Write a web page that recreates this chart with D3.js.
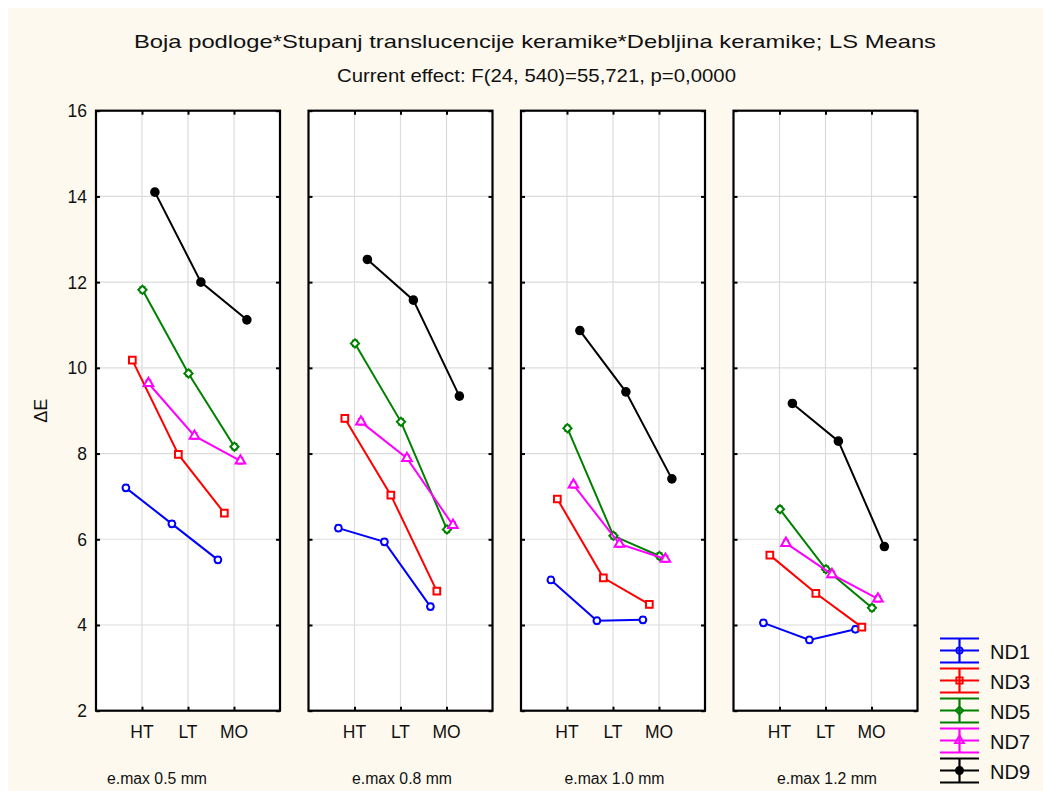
<!DOCTYPE html>
<html>
<head>
<meta charset="utf-8">
<title>LS Means</title>
<script src="https://cdn.jsdelivr.net/npm/d3@7"></script>
<style>
body { margin: 0; background: #fff; }
text { font-family: "Liberation Sans", Arial, sans-serif; fill: #111; }
.grid line { stroke: #dcdcdc; stroke-width: 1.2px; }
</style>
</head>
<body>
<script>

// data
const panels = ["e.max 0.5 mm", "e.max 0.8 mm", "e.max 1.0 mm", "e.max 1.2 mm"];
const categories = ["HT", "LT", "MO"];
const seriesNames = ["ND1", "ND3", "ND5", "ND7", "ND9"];
const seriesColors = ["#0000ff", "#ff0000", "#008000", "#ff00ff", "#000000"];

// values per series: [panel][category]
const nd1 = [[7.20, 6.36, 5.52], [6.26, 5.94, 4.43], [5.05, 4.10, 4.12], [4.05, 3.65, 3.90]];
const nd3 = [[10.18, 7.98, 6.61], [8.82, 7.03, 4.79], [6.94, 5.10, 4.48], [5.63, 4.74, 3.95]];
const nd5 = [[11.82, 9.87, 8.16], [10.57, 8.74, 6.23], [8.59, 6.08, 5.61], [6.70, 5.30, 4.40]];
const nd7 = [[9.64, 8.41, 7.83], [8.74, 7.89, 6.33], [7.27, 5.89, 5.54], [5.91, 5.18, 4.61]];
const nd9 = [[14.10, 12.00, 11.12], [12.53, 11.58, 9.34], [10.87, 9.44, 7.41], [9.17, 8.29, 5.83]];
const seriesValues = [nd1, nd3, nd5, nd7, nd9];
const errHalf = 0.07;   // confidence bars are tiny

const yTicks = [2, 4, 6, 8, 10, 12, 14, 16];

var width = 1043, height = 791;
var panelW = 184, panelStep = 212.5, panelLeft = 96;
var plotTop = 110.7, plotBottom = 710.7;

// horizontal dodge of each series around the category (in band units)
var dodge = [-0.35, -0.21, 0.01, 0.14, 0.28];

var svg = d3.select("body").append("svg")
    .attr("width", width)
    .attr("height", height);

svg.append("rect")
    .attr("x", 8).attr("y", 8)
    .attr("width", width - 8).attr("height", height - 8)
    .attr("fill", "#fdf9ef");

// title
svg.append("text")
    .attr("x", 535).attr("y", 48)
    .attr("text-anchor", "middle")
    .attr("textLength", 802).attr("lengthAdjust", "spacingAndGlyphs")
    .style("font-size", "18.5px")
    .text("Boja podloge*Stupanj translucencije keramike*Debljina keramike; LS Means");
svg.append("text")
    .attr("x", 536.5).attr("y", 82)
    .attr("text-anchor", "middle")
    .attr("textLength", 399).attr("lengthAdjust", "spacingAndGlyphs")
    .style("font-size", "18.5px")
    .text("Current effect: F(24, 540)=55,721, p=0,0000");

var y = d3.scaleLinear().domain([2, 16]).range([plotBottom, plotTop]);
var x = d3.scaleLinear().domain([0, 4]).range([0, panelW]);

// rotated square reads better than d3's tall diamond
var diamond = {
  draw: function(ctx, size) {
    var r = Math.sqrt(size) / 2 * 1.3;
    ctx.moveTo(0, -r); ctx.lineTo(r, 0); ctx.lineTo(0, r); ctx.lineTo(-r, 0); ctx.closePath();
  }
};

var symbols = [
  {type: d3.symbolCircle, size: 36, fill: "none"},
  {type: d3.symbolSquare, size: 45, fill: "none"},
  {type: diamond, size: 40, fill: "none"},
  {type: d3.symbolTriangle, size: 40, fill: "none"},
  {type: d3.symbolCircle, size: 45, fill: "#000"}
];

panels.forEach(function(label, p) {
  var g = svg.append("g")
      .attr("transform", "translate(" + (panelLeft + p * panelStep) + ",0)");

  g.append("rect")
      .attr("x", 0).attr("y", plotTop)
      .attr("width", panelW).attr("height", plotBottom - plotTop)
      .attr("fill", "#fff");

  var grid = g.append("g").attr("class", "grid");
  grid.selectAll(".h").data(yTicks.slice(1, -1)).enter().append("line")
      .attr("x1", 0).attr("x2", panelW)
      .attr("y1", d => y(d)).attr("y2", d => y(d));
  grid.selectAll(".v").data(categories).enter().append("line")
      .attr("x1", (d, i) => x(i + 1)).attr("x2", (d, i) => x(i + 1))
      .attr("y1", plotTop).attr("y2", plotBottom);

  // inward ticks on all four sides
  var left = d3.axisLeft(y).tickValues(yTicks).tickSizeInner(-4).tickSizeOuter(0).tickFormat("");
  var right = d3.axisRight(y).tickValues(yTicks).tickSizeInner(-4).tickSizeOuter(0).tickFormat("");
  var xb = d3.scaleOrdinal().domain(categories).range([x(1), x(2), x(3)]);
  var bot = d3.axisBottom(xb).tickSizeInner(-4).tickSizeOuter(0).tickFormat("");
  var topAx = d3.axisTop(xb).tickSizeInner(-4).tickSizeOuter(0).tickFormat("");
  [g.append("g").call(left),
   g.append("g").attr("transform", "translate(" + panelW + ",0)").call(right),
   g.append("g").attr("transform", "translate(0," + plotBottom + ")").call(bot),
   g.append("g").attr("transform", "translate(0," + plotTop + ")").call(topAx)]
    .forEach(function(a) {
      a.select(".domain").remove();
      a.selectAll(".tick line").attr("stroke", "#000").attr("stroke-width", 2);
    });

  g.append("rect")
      .attr("x", 0).attr("y", plotTop)
      .attr("width", panelW).attr("height", plotBottom - plotTop)
      .attr("fill", "none").attr("stroke", "#000").attr("stroke-width", 2.2);

  if (p == 0) {
    g.selectAll(".ylab").data(yTicks).enter().append("text")
        .attr("x", -9).attr("y", d => y(d) + 6.5)
        .attr("text-anchor", "end")
        .style("font-size", "17.5px")
        .text(d => d);
  }

  g.selectAll(".xlab").data(categories).enter().append("text")
      .attr("x", (d, i) => x(i + 1)).attr("y", 737.5)
      .attr("text-anchor", "middle")
      .style("font-size", "17.5px")
      .text(d => d);

  g.append("text")
      .attr("x", p == 0 ? 157 - panelLeft : panelW / 2 + 1.5)
      .attr("y", 784)
      .attr("text-anchor", "middle")
      .attr("textLength", 100).attr("lengthAdjust", "spacingAndGlyphs")
      .style("font-size", "16px")
      .text(label);

  // series
  seriesValues.forEach(function(vals, s) {
    var col = seriesColors[s];
    var pts = vals[p].map((v, i) => ({x: x(i + 1 + dodge[s]), y: y(v), v: v}));
    var line = d3.line().x(d => d.x).y(d => d.y);
    g.append("path")
        .attr("d", line(pts))
        .attr("fill", "none").attr("stroke", col).attr("stroke-width", 2);

    pts.forEach(function(d) {
      var eb = g.append("g").attr("stroke", col).attr("stroke-width", 1.5);
      eb.append("line").attr("x1", d.x).attr("x2", d.x)
          .attr("y1", y(d.v - errHalf)).attr("y2", y(d.v + errHalf));
      eb.append("line").attr("x1", d.x - 3).attr("x2", d.x + 3)
          .attr("y1", y(d.v - errHalf)).attr("y2", y(d.v - errHalf));
      eb.append("line").attr("x1", d.x - 3).attr("x2", d.x + 3)
          .attr("y1", y(d.v + errHalf)).attr("y2", y(d.v + errHalf));
    });

    g.selectAll(".m" + s).data(pts).enter().append("path")
        .attr("transform", d => "translate(" + d.x + "," + d.y + ")")
        .attr("d", d3.symbol().type(symbols[s].type).size(symbols[s].size))
        .attr("fill", symbols[s].fill == "none" ? "#fff" : col)
        .attr("stroke", col).attr("stroke-width", 2);
  });
});

// y axis title
svg.append("text")
    .attr("transform", "translate(47,410.7) rotate(-90)")
    .attr("text-anchor", "middle")
    .style("font-size", "18px")
    .text("ΔE");

// legend
var legend = svg.append("g");
seriesNames.forEach(function(name, s) {
  var cy = 650.5 + s * 30;
  var col = seriesColors[s];
  var lg = legend.append("g").attr("stroke", col).attr("stroke-width", 2.2);
  [-12, 0, 12].forEach(function(o) {
    lg.append("line").attr("x1", 940).attr("x2", 979).attr("y1", cy + o).attr("y2", cy + o);
  });
  lg.append("line").attr("x1", 959.5).attr("x2", 959.5).attr("y1", cy - 12).attr("y2", cy + 12);
  legend.append("path")
      .attr("transform", "translate(959.5," + cy + ")")
      .attr("d", d3.symbol().type(symbols[s].type).size(symbols[s].size * 0.9))
      .attr("fill", symbols[s].fill == "none" ? "none" : col)
      .attr("stroke", col).attr("stroke-width", 1.8);
  legend.append("text")
      .attr("x", 990).attr("y", cy + 8)
      .attr("textLength", 40).attr("lengthAdjust", "spacingAndGlyphs")
      .style("font-size", "21px")
      .text(name);
});

</script>
</body>
</html>
